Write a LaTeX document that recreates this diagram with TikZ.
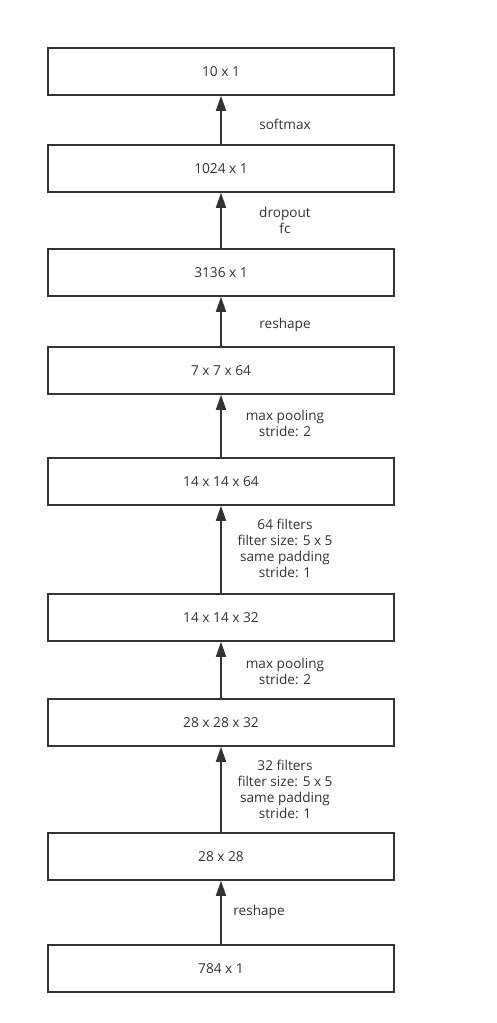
\documentclass[tikz,border=0pt]{standalone}
\usepackage{fontspec}
\setmainfont{Open Sans}
\usetikzlibrary{arrows.meta}
\definecolor{ink}{HTML}{333333}
\begin{document}
\begin{tikzpicture}[x=1pt,y=-1pt,
  layer/.style={draw=ink,line width=1.6pt,minimum width=346pt,minimum height=47pt,inner sep=0pt,text=ink,font=\fontsize{13.7}{16}\selectfont},
  lbl/.style={text=ink,font=\fontsize{13.6}{16}\selectfont,align=center,inner sep=0pt},
  conn/.style={draw=ink,line width=1.6pt,-{Triangle[width=10pt,length=15pt]}}]
\useasboundingbox (0,0) rectangle (497,1023);
\node[layer] (n1) at (221,71.5) {10 x 1};
\node[layer] (n2) at (221,168.5) {1024 x 1};
\node[layer] (n3) at (221,272.5) {3136 x 1};
\node[layer] (n4) at (221,370.5) {7 x 7 x 64};
\node[layer] (n5) at (221,481.5) {14 x 14 x 64};
\node[layer] (n6) at (221,617.5) {14 x 14 x 32};
\node[layer] (n7) at (221,722.5) {28 x 28 x 32};
\node[layer] (n8) at (221,856.5) {28 x 28};
\node[layer] (n9) at (221,968.5) {784 x 1};
\draw[conn] (n2) -- (n1);
\draw[conn] (n3) -- (n2);
\draw[conn] (n4) -- (n3);
\draw[conn] (n5) -- (n4);
\draw[conn] (n6) -- (n5);
\draw[conn] (n7) -- (n6);
\draw[conn] (n8) -- (n7);
\draw[conn] (n9) -- (n8);
\node[lbl] (l1) at (285,124) {softmax};
\node[lbl] (l2) at (285,220) {dropout\\fc};
\node[lbl] (l3) at (285,325) {reshape};
\node[lbl] (l4) at (285,423) {max pooling\\stride: 2};
\node[lbl] (l5) at (285,548) {64 filters\\filter size: 5 x 5\\same padding\\stride: 1};
\node[lbl] (l6) at (285,671) {max pooling\\stride: 2};
\node[lbl] (l7) at (285,789) {32 filters\\filter size: 5 x 5\\same padding\\stride: 1};
\node[lbl] (l8) at (259,912) {reshape};
\end{tikzpicture}
\end{document}
